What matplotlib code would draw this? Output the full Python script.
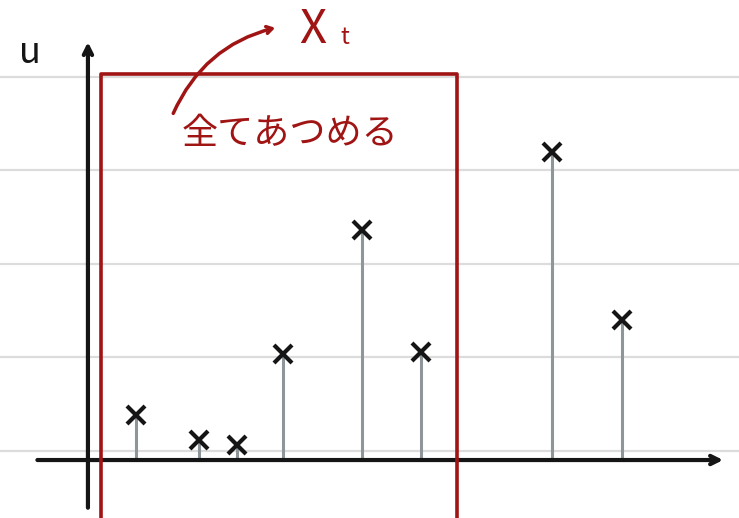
import matplotlib.pyplot as plt

plt.rcParams['font.family'] = ['Noto Sans CJK JP', 'DejaVu Sans']

# データ (1 単位 = 罫線の間隔)
xs = [0.51, 1.19, 1.59, 2.09, 2.93, 3.56, 4.96, 5.71]
us = [0.48, 0.21, 0.16, 1.13, 2.46, 1.16, 3.29, 1.50]
rule_lines = [0.1, 1.1, 2.1, 3.1, 4.1]
box_left, box_right, box_top = 0.14, 3.95, 4.13

red = '#a01414'
ink = '#151515'

fig = plt.figure(figsize=(7.39, 5.18), dpi=100)
ax = fig.add_axes([0, 0, 1, 1])
ax.set_xlim(-0.94, 6.96)
ax.set_ylim(-0.62, 4.92)
ax.axis('off')

# ノートの罫線
for r in rule_lines:
    ax.axhline(r, color='#dcdcdc', lw=1.6, zorder=0)

# 軸 (矢印)
ax.annotate('', xy=(6.82, 0), xytext=(-0.57, 0),
            arrowprops=dict(arrowstyle='->,head_length=0.6,head_width=0.3', color=ink, lw=3))
ax.annotate('', xy=(0, 4.5), xytext=(0, -0.54),
            arrowprops=dict(arrowstyle='->,head_length=0.6,head_width=0.3', color=ink, lw=3))
ax.text(-0.62, 4.35, 'u', fontsize=26, color=ink, ha='center', va='center')

# 棒とマーカー
ax.vlines(xs, 0, us, color='#8e9699', lw=2.2, zorder=2)
ax.plot(xs, us, 'x', color=ink, ms=13, mew=3, zorder=3)

# 赤い枠
ax.plot([box_left, box_left, box_right, box_right], [-0.62, box_top, box_top, -0.62],
        color=red, lw=2.6, zorder=4)

ax.text(2.16, 3.49, '全てあつめる', fontsize=26, color=red, ha='center', va='center')
ax.annotate('', xy=(2.03, 4.63), xytext=(0.9, 3.68),
            arrowprops=dict(arrowstyle='->,head_length=0.4,head_width=0.25', color=red, lw=2.5,
                            connectionstyle='arc3,rad=-0.25'))
ax.text(2.40, 4.60, 'X', fontsize=34, color=red, ha='center', va='center')
ax.text(2.75, 4.52, 't', fontsize=17, color=red, ha='center', va='center')

fig.savefig('out.png', dpi=100)
